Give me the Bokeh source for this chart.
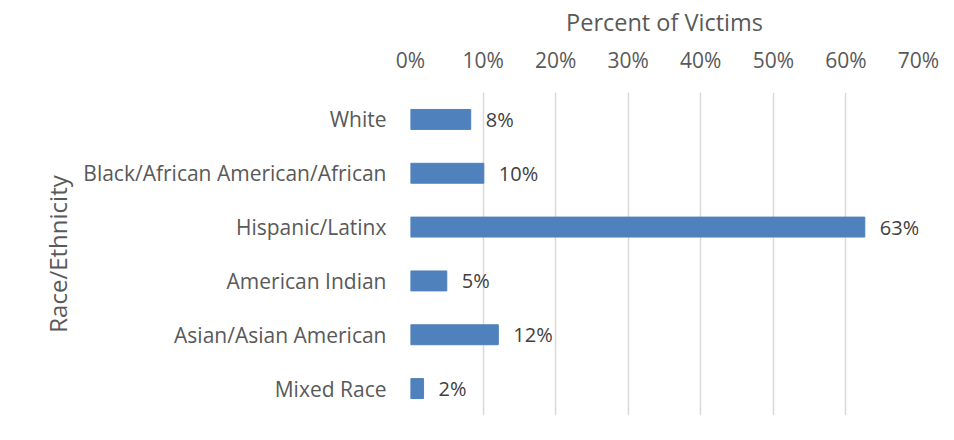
from bokeh.plotting import figure
from bokeh.models import ColumnDataSource, FactorRange, Range1d, FixedTicker, NumeralTickFormatter, LinearAxis, CategoricalAxis
from bokeh.core.properties import value
from bokeh.embed import file_html
from bokeh.resources import INLINE

categories = ["White", "Black/African American/African", "Hispanic/Latinx",
              "American Indian", "Asian/Asian American", "Mixed Race"]
percent_values = [0.083, 0.101, 0.626, 0.050, 0.121, 0.018]
tick_values = [0.0, 0.1, 0.2, 0.3, 0.4, 0.5, 0.6, 0.7]

labels = ["{:.0f}%".format(v * 100) for v in percent_values]
src = ColumnDataSource(dict(cat=categories, val=percent_values, lab=labels))

FONT = "Open Sans"
GRAY = "#595959"

p = figure(width=946, height=432, output_backend="svg", toolbar_location=None,
           y_range=FactorRange(factors=list(reversed(categories))),
           x_range=Range1d(0, 0.7), x_axis_location=None, y_axis_location=None,
           min_border_left=410, min_border_top=92, min_border_right=28, min_border_bottom=17)
p.outline_line_color = None

xax = LinearAxis(ticker=FixedTicker(ticks=tick_values),
                 formatter=NumeralTickFormatter(format="0%"),
                 axis_label="Percent of Victims")
xax.axis_line_color = None
xax.major_tick_line_color = None
xax.minor_tick_line_color = None
xax.major_tick_out = 0
xax.major_tick_in = 0
xax.minor_tick_out = 0
xax.major_label_text_font = FONT
xax.major_label_text_font_size = "21px"
xax.major_label_text_color = GRAY
xax.major_label_standoff = 19
xax.axis_label_text_font = FONT
xax.axis_label_text_font_size = "23.5px"
xax.axis_label_text_font_style = "normal"
xax.axis_label_text_color = GRAY
xax.axis_label_standoff = 5
p.add_layout(xax, "above")

yax = CategoricalAxis(axis_label="Race/Ethnicity")
yax.axis_line_color = None
yax.major_tick_line_color = None
yax.minor_tick_line_color = None
yax.major_tick_out = 0
yax.major_tick_in = 0
yax.minor_tick_out = 0
yax.major_label_text_font = FONT
yax.major_label_text_font_size = "21px"
yax.major_label_text_color = GRAY
yax.major_label_standoff = 24
yax.axis_label_text_font = FONT
yax.axis_label_text_font_size = "24px"
yax.axis_label_text_font_style = "normal"
yax.axis_label_text_color = GRAY
yax.axis_label_standoff = 6
p.add_layout(yax, "left")

p.xgrid.ticker = FixedTicker(ticks=tick_values)
p.xgrid.grid_line_color = "#D9D9D9"
p.xgrid.grid_line_width = 1.5
p.ygrid.grid_line_color = None

p.hbar(y="cat", right="val", left=0, height=0.37, source=src,
       fill_color="#4F81BD", line_color="#4F81BD")

p.text(x="val", y="cat", text="lab", source=src, x_offset=15,
       text_font=value(FONT), text_font_size="20px", text_color="#404040",
       text_align="left", text_baseline="middle")

open("out.html", "w").write(file_html(p, INLINE))
